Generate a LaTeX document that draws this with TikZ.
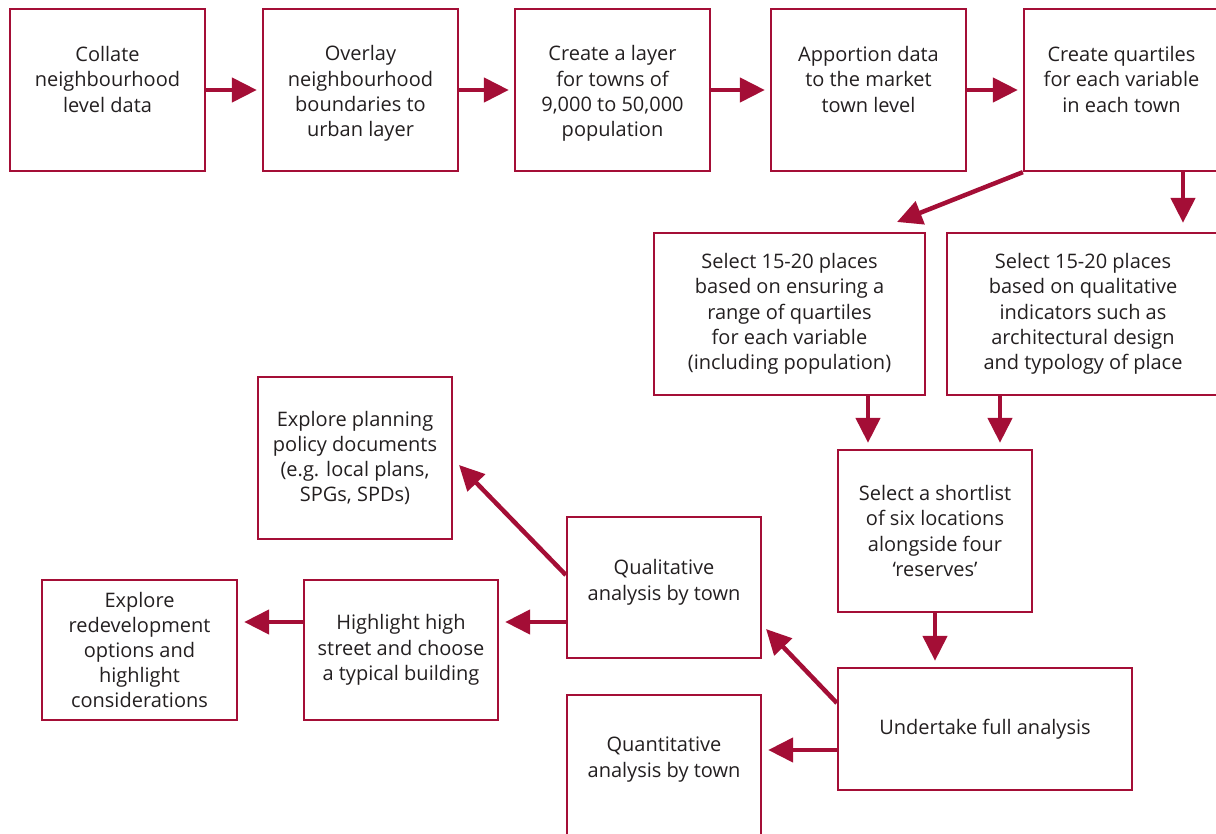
\documentclass[tikz,border=0pt]{standalone}
\usepackage{fontspec}
\setmainfont{Open Sans}
\usetikzlibrary{arrows.meta}
\definecolor{crim}{RGB}{164,14,54}
\definecolor{ink}{RGB}{35,31,32}
\begin{document}
\begin{tikzpicture}[x=1pt,y=-1pt,
  box/.style={draw=crim,line width=2.3pt,minimum width=195pt,minimum height=162pt,align=center,inner sep=2pt,text=ink,font=\fontsize{20}{25.2}\selectfont},
  arr/.style={draw=crim,line width=4.5pt,-{Triangle[length=25pt,width=24pt]}}]
\useasboundingbox (0,0) rectangle (1216,834);
\clip (0,0) rectangle (1216,834);
% top row
\node[box] (a) at (107.5,90) {Collate\\neighbourhood\\level data\\[-4pt]\mbox{}};
\node[box] (b) at (360.5,90) {\mbox{}\\[-3pt]Overlay\\neighbourhood\\boundaries to\\urban layer};
\node[box] (c) at (612.5,90) {\mbox{}\\[-3pt]Create a layer\\for towns of\\9,000 to 50,000\\population};
\node[box] (d) at (868.5,90) {Apportion data\\to the market\\town level\\[-4pt]\mbox{}};
\node[box] (e) at (1121.5,90) {Create quartiles\\for each variable\\in each town\\[-4pt]\mbox{}};
% second row
\node[box,minimum width=271pt] (f) at (789.5,314) {Select 15-20 places\\based on ensuring a\\range of quartiles\\for each variable\\(including population)};
\node[box,minimum width=272pt] (g) at (1083,314) {Select 15-20 places\\based on qualitative\\indicators such as\\architectural design\\and typology of place};
\node[box,minimum width=194pt] (h) at (935,531) {Select a shortlist\\of six locations\\alongside four\\‘reserves’};
\node[box,minimum width=294pt,minimum height=122pt] (i) at (985,729) {Undertake full analysis};
\node[box,minimum width=194pt,minimum height=141pt] (j) at (664,587.5) {Qualitative\\analysis by town\\[-10pt]\mbox{}};
\node[box,minimum width=194pt,minimum height=143pt] (k) at (664,766.5) {Quantitative\\analysis by town\\[-6.7pt]\mbox{}};
\node[box,minimum width=194pt] (l) at (355,458) {Explore planning\\policy documents\\(e.g. local plans,\\SPGs, SPDs)};
\node[box,minimum width=194pt,minimum height=140pt] (m) at (401,650) {Highlight high\\street and choose\\a typical building};
\node[box,minimum width=195pt,minimum height=140pt] (n) at (139.5,650) {Explore\\redevelopment\\options and\\highlight\\considerations};
% connectors
\draw[arr,shorten >=5pt] (a.east) -- (b.west);
\draw[arr,shorten >=5pt] (b.east) -- (c.west);
\draw[arr,shorten >=5pt] (c.east) -- (d.west);
\draw[arr,shorten >=5pt] (d.east) -- (e.west);
\coordinate (t1) at (897,222);
\draw[arr] (e.south west) -- (t1);
\draw[arr,shorten >=9pt] (e.south -| 1183,0) -- (g.north -| 1183,0);
\draw[arr,shorten >=6pt] (f.south -| 868,0) -- (h.north -| 868,0);
\draw[arr,shorten >=6pt] (g.south -| 1000,0) -- (h.north -| 1000,0);
\draw[arr,shorten >=6pt] (h.south) -- (h.south |- i.north);
\coordinate (t2) at (766,629);
\draw[arr] (i.west |- 0,703) -- (t2);
\draw[arr,shorten >=6pt] (i.west |- 0,750) -- (k.east |- 0,750);
\draw[arr,shorten >=6pt] (j.west |- 0,622) -- (m.east |- 0,622);
\coordinate (t3) at (459,465);
\draw[arr] (j.west |- 0,575) -- (t3);
\draw[arr,shorten >=6pt] (m.west |- 0,622) -- (n.east |- 0,622);
\end{tikzpicture}
\end{document}
